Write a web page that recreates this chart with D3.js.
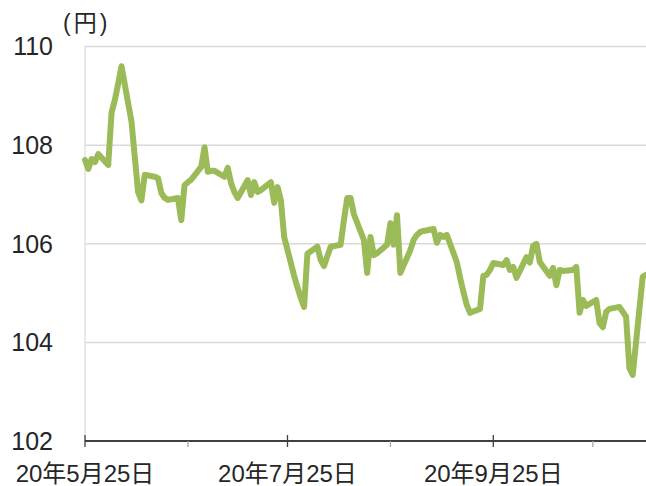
<!DOCTYPE html>
<html>
<head>
<meta charset="utf-8">
<script src="https://cdn.jsdelivr.net/npm/d3@7"></script>
<style>
  body { margin: 0; background: #fff; }
  text { font-family: "Liberation Sans", "Noto Sans CJK JP", sans-serif; fill: #262626; }
</style>
</head>
<body>
<div id="main"></div>
<script>
const dates = [
  "2020-05-25","2020-05-26","2020-05-27","2020-05-28","2020-05-29",
  "2020-06-01","2020-06-02","2020-06-03","2020-06-04","2020-06-05",
  "2020-06-08","2020-06-09","2020-06-10","2020-06-11","2020-06-12",
  "2020-06-15","2020-06-16","2020-06-17","2020-06-18","2020-06-19",
  "2020-06-22","2020-06-23","2020-06-24","2020-06-25","2020-06-26",
  "2020-06-29","2020-06-30","2020-07-01","2020-07-02","2020-07-03",
  "2020-07-06","2020-07-07","2020-07-08","2020-07-09","2020-07-10",
  "2020-07-13","2020-07-14","2020-07-15","2020-07-16","2020-07-17",
  "2020-07-20","2020-07-21","2020-07-22","2020-07-23","2020-07-24",
  "2020-07-27","2020-07-28","2020-07-29","2020-07-30","2020-07-31",
  "2020-08-03","2020-08-04","2020-08-05","2020-08-06","2020-08-07",
  "2020-08-10","2020-08-11","2020-08-12","2020-08-13","2020-08-14",
  "2020-08-17","2020-08-18","2020-08-19","2020-08-20","2020-08-21",
  "2020-08-24","2020-08-25","2020-08-26","2020-08-27","2020-08-28",
  "2020-08-31","2020-09-01","2020-09-02","2020-09-03","2020-09-04",
  "2020-09-07","2020-09-08","2020-09-09","2020-09-10","2020-09-11",
  "2020-09-14","2020-09-15","2020-09-16","2020-09-17","2020-09-18",
  "2020-09-21","2020-09-22","2020-09-23","2020-09-24","2020-09-25",
  "2020-09-28","2020-09-29","2020-09-30","2020-10-01","2020-10-02",
  "2020-10-05","2020-10-06","2020-10-07","2020-10-08","2020-10-09",
  "2020-10-12","2020-10-13","2020-10-14","2020-10-15","2020-10-16",
  "2020-10-19","2020-10-20","2020-10-21","2020-10-22","2020-10-23",
  "2020-10-26","2020-10-27","2020-10-28","2020-10-29","2020-10-30",
  "2020-11-02","2020-11-04","2020-11-05","2020-11-06",
  "2020-11-09","2020-11-10"
];
const rates = [
  107.70,107.52,107.72,107.66,107.82,
  107.60,108.66,108.92,109.25,109.60,
  108.48,107.76,107.05,106.88,107.40,
  107.36,107.33,107.03,106.93,106.89,
  106.93,106.48,107.19,107.25,107.30,
  107.56,107.96,107.46,107.48,107.48,
  107.36,107.54,107.23,107.05,106.93,
  107.29,106.99,107.25,107.05,107.09,
  107.25,106.83,107.15,106.89,106.14,
  105.35,105.12,104.90,104.72,105.80,
  105.94,105.67,105.55,105.75,105.94,
  105.98,106.48,106.93,106.93,106.60,
  106.08,105.41,106.14,105.77,105.81,
  105.98,106.42,105.98,106.58,105.41,
  105.87,106.08,106.18,106.24,106.26,
  106.30,106.02,106.18,106.14,106.18,
  105.63,105.31,105.02,104.76,104.60,
  104.68,105.35,105.37,105.47,105.61,
  105.57,105.67,105.47,105.53,105.31,
  105.73,105.62,105.96,106.00,105.63,
  105.35,105.51,105.16,105.47,105.45,
  105.47,105.53,104.60,104.86,104.74,
  104.86,104.39,104.31,104.62,104.68,
  104.72,104.52,103.48,103.34,
  105.33,105.37
];
const yTicks = [102, 104, 106, 108, 110];
const majorTicks = ["2020-05-25", "2020-07-25", "2020-09-25"];
const minorTicks = ["2020-06-25", "2020-08-25", "2020-10-25"];
const unitLabel = "(円)";

const width = 646;
const height = 486;
const plotLeft = 85, plotRight = 646, plotTop = 46.6, plotBottom = 441;

const parse = d3.utcParse("%Y-%m-%d");
const data = dates.map((d, i) => ({ date: parse(d), value: rates[i] }));

const svg = d3.select("#main")
  .append("svg")
  .attr("width", width)
  .attr("height", height);

const x = d3.scaleUtc()
  .domain([parse("2020-05-25"), parse("2020-11-10")])
  .range([plotLeft, plotRight]);

const y = d3.scaleLinear()
  .domain([102, 110])
  .range([plotBottom, plotTop]);

// gridlines
svg.append("g")
  .selectAll("line")
  .data(yTicks.filter(d => d > 102))
  .enter()
  .append("line")
  .attr("x1", plotLeft)
  .attr("x2", plotRight)
  .attr("y1", d => y(d))
  .attr("y2", d => y(d))
  .attr("stroke", "#d9d9d9")
  .attr("stroke-width", 1.5);

// left spine
svg.append("line")
  .attr("x1", plotLeft).attr("x2", plotLeft)
  .attr("y1", plotTop).attr("y2", plotBottom)
  .attr("stroke", "#d9d9d9")
  .attr("stroke-width", 1.2);

// y labels
svg.append("g")
  .selectAll("text")
  .data(yTicks)
  .enter()
  .append("text")
  .attr("x", 53)
  .attr("y", d => y(d))
  .attr("dy", "0.35em")
  .attr("text-anchor", "end")
  .style("font-size", "25px")
  .text(d => d);

svg.append("text")
  .attr("x", 63)
  .attr("y", 23)
  .attr("dy", "0.36em")
  .style("font-size", "23px")
  .style("letter-spacing", "3px")
  .text(unitLabel);

// x axis
svg.append("line")
  .attr("x1", plotLeft).attr("x2", plotRight)
  .attr("y1", plotBottom).attr("y2", plotBottom)
  .attr("stroke", "#000")
  .attr("stroke-width", 1.3);

svg.append("g")
  .selectAll("line")
  .data(minorTicks.map(parse))
  .enter()
  .append("line")
  .attr("x1", d => x(d)).attr("x2", d => x(d))
  .attr("y1", plotBottom).attr("y2", plotBottom + 6)
  .attr("stroke", "#a6a6a6")
  .attr("stroke-width", 1.3);

svg.append("g")
  .selectAll("line")
  .data(majorTicks.map(parse))
  .enter()
  .append("line")
  .attr("x1", d => x(d)).attr("x2", d => x(d))
  .attr("y1", plotBottom - 6).attr("y2", plotBottom + 6)
  .attr("stroke", "#404040")
  .attr("stroke-width", 1.3);

const fmt = d => "20年" + (d.getUTCMonth() + 1) + "月" + d.getUTCDate() + "日";

svg.append("g")
  .selectAll("text")
  .data(majorTicks.map(parse))
  .enter()
  .append("text")
  .attr("x", d => x(d))
  .attr("y", 473)
  .attr("dy", "0.36em")
  .attr("text-anchor", "middle")
  .style("font-size", "24px")
  .text(fmt);

// rate line
const line = d3.line()
  .x(d => x(d.date))
  .y(d => y(d.value));

svg.append("path")
  .datum(data)
  .attr("fill", "none")
  .attr("stroke", "#9bbb59")
  .attr("stroke-width", 6)
  .attr("stroke-linejoin", "round")
  .attr("stroke-linecap", "round")
  .attr("d", line);
</script>
</body>
</html>
